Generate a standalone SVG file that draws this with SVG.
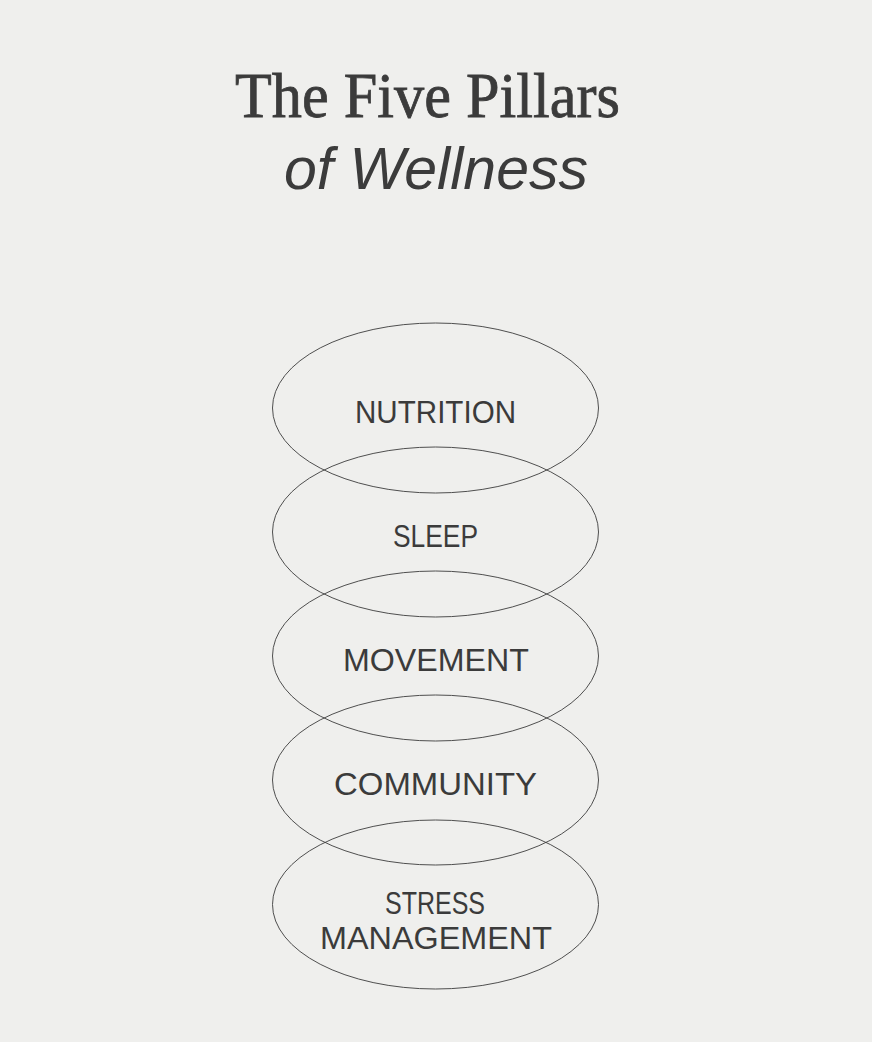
<svg xmlns="http://www.w3.org/2000/svg" width="872" height="1042" viewBox="0 0 872 1042">
<style>
.bg{fill:#efefed}
.pillar{fill:none;stroke:#3c3c3c;stroke-width:0.9}
.lbl{font-family:"Liberation Sans",Arial,sans-serif;font-size:31px;fill:#3b3b3b;text-anchor:middle}
.t1{font-family:"Liberation Serif","Times New Roman",serif;font-size:64px;fill:#3b3b3b;stroke:#3b3b3b;stroke-width:0.8;text-anchor:middle}
.t2{font-family:"Liberation Sans",Arial,sans-serif;font-style:italic;font-size:60px;fill:#3b3b3b;text-anchor:middle}
</style>
<rect class="bg" x="0" y="0" width="872" height="1042"/>
<g id="title">
<text class="t1" x="427.5" y="117" textLength="385" lengthAdjust="spacingAndGlyphs">The Five Pillars</text>
<text class="t2" x="436" y="189" textLength="304" lengthAdjust="spacingAndGlyphs">of Wellness</text>
</g>
<g id="connectors"></g>
<g id="nutrition">
<ellipse class="pillar" cx="435.5" cy="408" rx="163" ry="85"/>
<text class="lbl" x="435.5" y="423" textLength="161" lengthAdjust="spacingAndGlyphs">NUTRITION</text>
</g>
<g id="sleep">
<ellipse class="pillar" cx="435.5" cy="532" rx="163" ry="85"/>
<text class="lbl" x="435.5" y="547" textLength="85" lengthAdjust="spacingAndGlyphs">SLEEP</text>
</g>
<g id="movement">
<ellipse class="pillar" cx="435.5" cy="656" rx="163" ry="85"/>
<text class="lbl" x="436" y="671" textLength="186" lengthAdjust="spacingAndGlyphs">MOVEMENT</text>
</g>
<g id="community">
<ellipse class="pillar" cx="435.5" cy="780" rx="163" ry="85"/>
<text class="lbl" x="435.5" y="795" textLength="203" lengthAdjust="spacingAndGlyphs">COMMUNITY</text>
</g>
<g id="stress-management">
<ellipse class="pillar" cx="435.5" cy="904.5" rx="163" ry="84.5"/>
<text class="lbl" x="435" y="913.5" textLength="100" lengthAdjust="spacingAndGlyphs">STRESS</text>
<text class="lbl" x="436" y="948.5" textLength="232" lengthAdjust="spacingAndGlyphs">MANAGEMENT</text>
</g>
</svg>
